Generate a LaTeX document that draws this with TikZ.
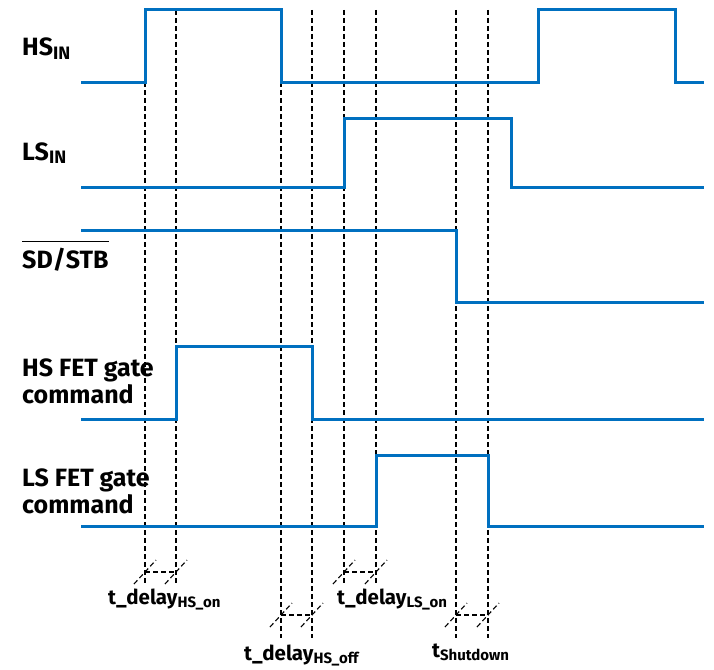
\documentclass[tikz,border=0pt]{standalone}
\usepackage{fontspec}
\setmainfont{Fira Sans}
\definecolor{wavec}{HTML}{0070C0}
\newcommand\lsub[1]{\raisebox{-0.3ex}{\fontsize{18}{18}\selectfont #1}}
\newcommand\tsub[1]{\raisebox{-0.32ex}{\fontsize{15}{15}\selectfont #1}}
\begin{document}
\begin{tikzpicture}[x=1pt,y=-1pt,
  wave/.style={draw=wavec, line width=3pt, line join=miter},
  guide/.style={draw=black, line width=1.1pt, dash pattern=on 5pt off 3pt},
  lbl/.style={anchor=base west, inner sep=0pt, font=\fontsize{25}{27}\selectfont\bfseries, align=left},
  tlbl/.style={anchor=base west, inner sep=0pt, font=\fontsize{20.5}{24}\selectfont\bfseries}]
\useasboundingbox (0,0) rectangle (714,669);

% guide lines
\foreach \x/\e in {145/583,176/583,281/638,312/638,344/583,376/583,456/638,488/638}{
  \draw[guide] (\x,10) -- (\x,\e);
}
% delay markers
\foreach \a/\b/\y in {145/176/572,281/312/615,344/376/572,456/488/615}{
  \draw[guide] (\a,\y) -- (\b,\y);
  \draw[guide] (\a-11,\y+12) -- (\a+11,\y-12);
  \draw[guide] (\b-11,\y+12) -- (\b+11,\y-12);
}

% waveforms
\draw[wave] (81,82) -- (145,82) -- (145,10) -- (281,10) -- (281,82) -- (538,82) -- (538,10) -- (675,10) -- (675,82) -- (704,82);
\draw[wave] (81,187) -- (344,187) -- (344,118) -- (511,118) -- (511,187) -- (704,187);
\draw[wave] (81,230) -- (456,230) -- (456,302) -- (704,302);
\draw[wave] (81,419) -- (176,419) -- (176,346) -- (312,346) -- (312,419) -- (704,419);
\draw[wave] (81,526) -- (376,526) -- (376,455) -- (488,455) -- (488,526) -- (704,526);

% labels
\node[lbl] (hsin) at (22,56) {HS\lsub{IN}};
\node[lbl] (lsin) at (22,160) {LS\lsub{IN}};
\node[lbl] (sd) at (22,268) {SD/STB};
\draw[line width=1.3pt] ([yshift=6pt]sd.north west) -- ([yshift=6pt]sd.north east);
\node[lbl] (hsfet) at (22,403) {HS FET gate\\command};
\node[lbl] (lsfet) at (22,513) {LS FET gate\\command};

\node[tlbl] (t1) at (108,604) {t\_delay\tsub{HS\_on}};
\node[tlbl] (t2) at (244,660) {t\_delay\tsub{HS\_off}};
\node[tlbl] (t3) at (337,604) {t\_delay\tsub{LS\_on}};
\node[tlbl] (t4) at (432,657) {t\tsub{Shutdown}};
\end{tikzpicture}
\end{document}
